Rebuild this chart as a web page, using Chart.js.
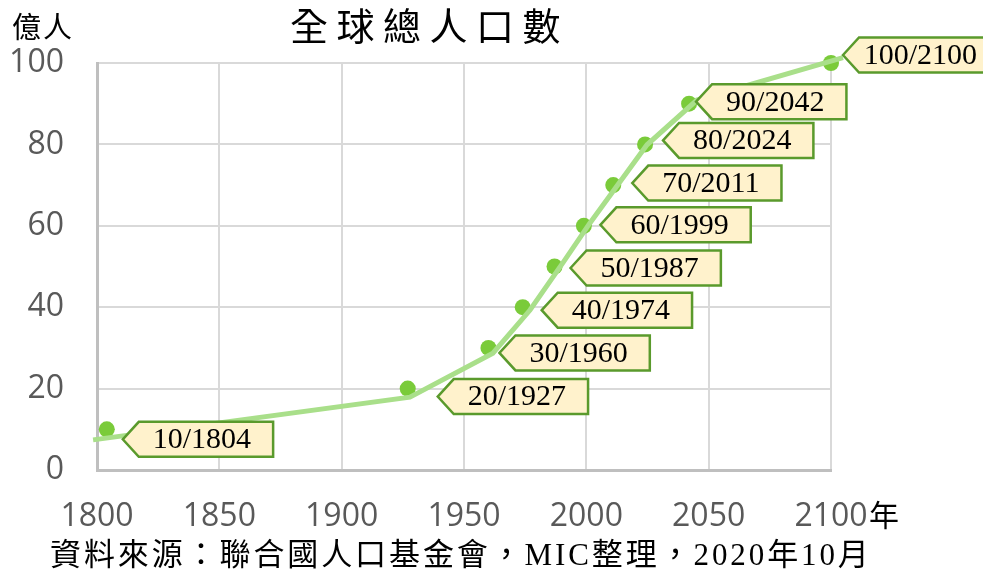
<!DOCTYPE html>
<html>
<head>
<meta charset="utf-8">
<script src="https://cdn.jsdelivr.net/npm/chart.js@4.4.1/dist/chart.umd.min.js"></script>
<style>
html,body{margin:0;padding:0;background:#fff;}
#wrap{width:983px;height:577px;position:relative;}
</style>
</head>
<body>
<div id="wrap"><canvas id="c" width="983" height="577"></canvas></div>
<script>
// ---- data ----
const milestoneYears = [1804, 1927, 1960, 1974, 1987, 1999, 2011, 2024, 2042, 2100];
const milestoneValues = [10, 20, 30, 40, 50, 60, 70, 80, 90, 100];
const trendYears = [1798.4, 1927.9, 1961.8, 1977.0, 1990.4, 2001.5, 2024.8, 2045.2, 2104.9];
const trendValues = [7.4, 17.9, 28.7, 39.3, 50.9, 60.7, 79.9, 90.9, 101.3];
const xTicks = [1800, 1850, 1900, 1950, 2000, 2050, 2100];
const yTicks = [0, 20, 40, 60, 80, 100];
const titleText = '全球總人口數';
const yUnitText = '億人';
const xUnitText = '年';
const sourceText = '資料來源：聯合國人口基金會，MIC整理，2020年10月';

// label nudges (pixel offsets of callout tip from its point)
const labelNudges = [[16,10],[30,8],[11,5],[19,3],[16,1.5],[16.5,-1],[19,-2],[18,-4],[7,-2],[12,-8]];

const trendData = trendYears.map((x,i)=>({x, y: trendValues[i]}));
const pointData = milestoneYears.map((x,i)=>({x, y: milestoneValues[i]}));

const calloutPlugin = {
  id: 'callouts',
  afterDatasetsDraw(chart) {
    const ctx = chart.ctx;
    const meta = chart.getDatasetMeta(1);
    ctx.save();
    ctx.font = '30px "Liberation Serif", "Times New Roman", serif';
    meta.data.forEach((pt, i) => {
      const label = milestoneValues[i] + '/' + milestoneYears[i];
      const [dx, dy] = labelNudges[i];
      const tx = pt.x + dx, ty = pt.y + dy;
      const a = 16, h = 35;
      const tw = ctx.measureText(label).width;
      const W = tw + 36;
      const L = tx + a, T = ty - h/2;
      ctx.beginPath();
      ctx.moveTo(tx, ty);
      ctx.lineTo(L, T);
      ctx.lineTo(L + W, T);
      ctx.lineTo(L + W, T + h);
      ctx.lineTo(L, T + h);
      ctx.closePath();
      ctx.fillStyle = '#FFF2CC';
      ctx.fill();
      ctx.lineWidth = 2.5;
      ctx.strokeStyle = '#5A9A2C';
      ctx.lineJoin = 'miter';
      ctx.stroke();
      ctx.fillStyle = '#000';
      ctx.textAlign = 'left';
      ctx.textBaseline = 'middle';
      const textLeft = Math.min(L + 14, chart.width - 6 - tw);
      ctx.fillText(label, textLeft, ty + 1);
    });
    ctx.restore();
  },
  afterDraw(chart) {
    const ctx = chart.ctx;
    ctx.save();
    ctx.fillStyle = '#000';
    ctx.textBaseline = 'middle';
    // y unit
    ctx.font = '29px "Noto Sans CJK TC", sans-serif';
    ctx.textAlign = 'left';
    ctx.letterSpacing = '2px';
    ctx.fillText(yUnitText, 12, 27);
    // title
    ctx.font = '38px "Noto Sans CJK TC", sans-serif';
    ctx.letterSpacing = '8.5px';
    ctx.fillText(titleText, 290, 26);
    // x unit
    ctx.letterSpacing = '0px';
    ctx.font = '30px "Noto Sans CJK TC", sans-serif';
    ctx.fillText(xUnitText, 869, 515);
    // source
    ctx.font = '31px "Liberation Serif", "Noto Sans CJK TC", serif';
    ctx.letterSpacing = '2.9px';
    ctx.fillText(sourceText, 50, 557);
    ctx.restore();
  }
};

const tickFont = {family: '"Open Sans", sans-serif', size: 32};

new Chart(document.getElementById('c'), {
  type: 'scatter',
  data: {
    datasets: [
      {
        label: 'trend',
        data: trendData,
        showLine: true,
        borderColor: '#A9DF8A',
        borderWidth: 5,
        pointRadius: 0,
        fill: false,
        clip: false,
        order: 0
      },
      {
        label: 'milestones',
        data: pointData,
        showLine: false,
        pointRadius: 8,
        pointBackgroundColor: '#7ACB3A',
        pointBorderWidth: 0,
        clip: false,
        order: 1
      }
    ]
  },
  options: {
    responsive: false,
    animation: false,
    devicePixelRatio: 1,
    layout: {padding: {top: 63, right: 152, bottom: 0, left: 0}},
    plugins: {legend: {display: false}, tooltip: {enabled: false}, title: {display: false}},
    scales: {
      x: {
        type: 'linear', min: xTicks[0], max: xTicks[xTicks.length-1],
        afterBuildTicks: s => { s.ticks = xTicks.map(v => ({value: v})); },
        afterFit: s => { s.height = 107; },
        ticks: {color: '#595959', font: tickFont, padding: 28, maxRotation: 0, callback: v => String(v)},
        grid: {color: '#D9D9D9', lineWidth: 2, drawTicks: false},
        border: {color: '#BFBFBF', width: 3}
      },
      y: {
        min: yTicks[0], max: yTicks[yTicks.length-1],
        afterBuildTicks: s => { s.ticks = yTicks.map(v => ({value: v})); },
        afterFit: s => { s.width = 97; },
        ticks: {color: '#595959', font: tickFont, padding: 33, callback: v => String(v)},
        grid: {color: '#D9D9D9', lineWidth: 2, drawTicks: false},
        border: {color: '#BFBFBF', width: 3}
      }
    }
  },
  plugins: [calloutPlugin]
});
</script>
</body>
</html>
